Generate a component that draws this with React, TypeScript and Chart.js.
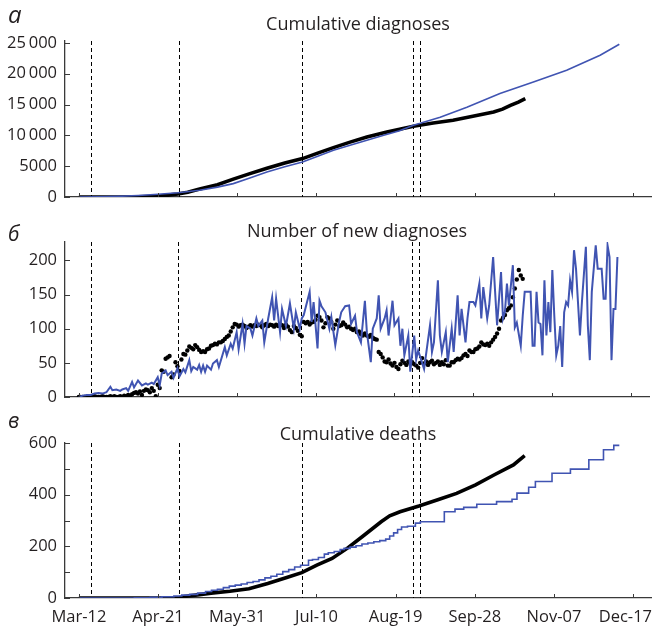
import React, { useEffect, useRef } from 'react';
import { Chart, registerables } from 'chart.js';

Chart.register(...registerables);

// ---- shared axis data (day 0 = Mar-12) ----
const tickDays = [0, 40, 80, 120, 160, 200, 240, 280];
const tickLabels = ['Mar-12', 'Apr-21', 'May-31', 'Jul-10', 'Aug-19', 'Sep-28', 'Nov-07', 'Dec-17'];
const eventDays = [6, 50.5, 112.5, 169, 172.5];

// ---- panel а: cumulative diagnoses ----
const obsCumDiagDays = [0, 10, 20, 30, 40, 45, 50, 55, 61, 70, 78, 86, 95, 104, 113, 121, 128.6, 137, 145.5, 155.6, 162, 169, 179, 189, 199, 209.5, 214, 218, 222, 225.5];
const obsCumDiagVals = [0, 0, 5, 40, 110, 300, 500, 780, 1300, 2000, 2900, 3750, 4650, 5500, 6230, 7150, 8000, 8900, 9720, 10550, 11000, 11470, 12000, 12450, 13100, 13800, 14250, 14850, 15400, 15960];
const modCumDiagDays = [0, 10, 20, 30, 40, 50, 61, 70, 78, 86, 95, 104, 113, 121, 128.6, 137, 145.5, 154, 162, 169, 172.4, 182.5, 196, 212.7, 229.6, 246.4, 263.3, 273];
const modCumDiagVals = [0, 20, 100, 250, 450, 700, 1090, 1600, 2170, 3050, 4060, 4900, 5680, 6650, 7570, 8400, 9200, 10000, 10750, 11650, 11950, 12950, 14550, 16770, 18660, 20550, 22990, 24770];

// ---- panel б: number of new diagnoses ----
const obsNewVals = [
  0, 0, 0, 0, 0, 0, 0, 0, 1, 0,
  0, 0, 1, 0, 0, 0, 1, 0, 1, 0,
  0, 1, 0, 2, 1, 3, 2, 4, 6, 7,
  5, 8, 3, 9, 11, 10, 7, 13, 9, 1,
  18, 13, 39, 37, 56, 58, 60, 29, 33, 51,
  45, 38, 55, 63, 62, 68, 74, 72, 70, 76,
  73, 69, 66, 67, 66, 70, 71, 75, 76, 78,
  77, 80, 80, 82, 85, 88, 90, 96, 102, 107,
  106, 103, 105, 106, 104, 101, 103, 105, 103, 105,
  104, 106, 105, 102, 105, 107, 104, 106, 105, 103,
  106, 104, 107, 105, 101, 106, 103, 98, 95, 104,
  101, 97, 91, 89, 110, 108, 110, 106, 109, 110,
  113, 119, 117, 112, 102, 108, 117, 115, 110, 100,
  106, 112, 104, 105, 109, 106, 102, 103, 100, 98,
  100, 95, 96, 92, 90, 93, 90, 88, 91, 87,
  85, 84, 66, 63, 58, 52, 51, 55, 49, 46,
  50, 44, 41, 48, 53, 50, 47, 52, 49, 51,
  48, 46, 43, 50, 57, 49, 52, 47, 51, 53,
  48, 50, 52, 47, 51, 48, 54, 46, 46, 51,
  51, 54, 56, 55, 57, 61, 63, 60, 68, 66,
  66, 70, 71, 74, 80, 77, 76, 78, 75, 80,
  84, 88, 93, 100, 112, 116, 120, 127, 130, 134,
  146, 159, 172, 186, 178, 173
];
const modNewDays = [
  0, 2, 4, 6, 8, 10, 12, 14, 16, 17, 19, 21, 22, 24, 25, 27, 28, 30, 32, 34,
  35, 37, 38, 40, 41, 42, 44, 45, 47, 48, 50, 51, 53, 54, 56, 57, 58, 60, 61, 62,
  63, 64, 65, 67, 68, 70, 71, 74, 75, 77, 78, 80, 81, 83, 84, 85, 87, 88, 90, 91,
  93, 94, 96, 98, 99, 100, 102, 103, 105, 107, 109, 110, 112, 113, 114, 117, 118, 119, 121, 122,
  123, 125, 127, 128, 130, 132, 133, 135, 137, 138, 140, 141, 143, 145, 146, 148, 149, 151, 152, 153,
  155, 156, 157, 159, 160, 162, 163, 164, 165, 167, 168, 170, 171, 172, 174, 175, 178, 179, 180, 182,
  183, 184, 186, 187, 189, 190, 192, 193, 194, 196, 197, 198, 200, 201, 203, 204, 205, 207, 208, 210,
  211, 212, 214, 215, 216, 217, 218, 220, 221, 222, 224, 225, 226, 227, 229, 230, 231, 232, 233, 234,
  235, 236, 237, 238, 239, 240, 241, 242, 243, 244, 245, 246, 247, 248, 249, 250, 251, 252, 253, 254,
  255, 257, 258, 259, 260, 262, 263, 264, 265, 266, 267, 268, 269, 270, 271, 272, 273
];
const modNewVals = [
  0, 2, 3, 3, 5, 6, 5, 7, 15, 10, 11, 9, 11, 13, 9, 22, 14, 24, 17, 20,
  18, 21, 19, 29, 17, 34, 39, 32, 37, 28, 42, 30, 41, 36, 54, 38, 44, 40, 47, 37,
  46, 37, 46, 40, 49, 54, 44, 73, 61, 78, 71, 95, 70, 107, 78, 104, 100, 90, 115, 104,
  112, 80, 115, 146, 112, 144, 95, 129, 104, 137, 100, 124, 100, 115, 120, 154, 110, 139, 71, 141,
  133, 124, 100, 117, 76, 111, 124, 133, 134, 107, 119, 95, 80, 141, 95, 51, 100, 115, 149, 100,
  115, 127, 90, 141, 105, 115, 75, 100, 61, 90, 37, 90, 55, 68, 50, 41, 105, 66, 80, 171,
  90, 66, 95, 51, 100, 66, 149, 90, 129, 80, 115, 139, 139, 134, 166, 115, 161, 115, 134, 205,
  154, 105, 183, 115, 125, 166, 134, 193, 102, 109, 75, 119, 154, 154, 154, 75, 75, 154, 109, 107,
  61, 171, 90, 139, 95, 186, 119, 61, 75, 104, 44, 124, 139, 134, 171, 154, 215, 188, 139, 90,
  139, 220, 105, 54, 154, 222, 188, 188, 188, 144, 144, 222, 205, 54, 129, 129, 205
];

// ---- panel в: cumulative deaths ----
const obsDeathDays = [0, 40, 51, 53.4, 60, 66.8, 76.3, 85.9, 95.4, 105, 112.6, 120.2, 127.9, 135.5, 143.1, 152.7, 157, 162.2, 171.8, 181.3, 190.8, 200.4, 209.9, 219.5, 225.2];
const obsDeathVals = [0, 0, 1, 6, 12, 19, 26, 36, 56, 79, 98, 127, 153, 192, 237, 295, 318, 334, 356, 380, 405, 438, 477, 515, 551];
const modDeathDays = [0, 28, 36, 42, 48, 52, 56, 60, 64, 67, 70, 73, 76, 79, 82, 85, 88, 91, 94, 97, 100, 103, 106, 109, 112, 116, 118, 121, 124, 126, 129, 132, 134, 137, 140, 143, 146, 149, 152, 155, 157, 159, 161, 163, 166, 170, 172.5, 184.6, 190, 194.4, 201, 211, 218.8, 221.3, 227.2, 230.6, 239, 248.3, 257.6, 265, 270.2, 273];
const modDeathVals = [0, 1, 3, 5, 8, 11, 14, 19, 25, 30, 34, 40, 46, 50, 54, 60, 64, 70, 78, 84, 92, 102, 110, 120, 127, 146, 149, 157, 170, 175, 180, 188, 192, 197, 202, 209, 213, 218, 222, 228, 240, 252, 265, 275, 278, 290, 295, 334, 344, 351, 363, 373, 382, 406, 429, 451, 483, 499, 535, 574, 591, 591];

// ---- y ticks ----
const yTicksA = [0, 5000, 10000, 15000, 20000, 25000];
const yTicksB = [0, 50, 100, 150, 200];
const yTicksC = [0, 100, 200, 300, 400, 500, 600];

const FONT = '"Open Sans", sans-serif';
const TEXT = '#231f20';
const AXIS = '#3a3a3a';
const BLUE = '#4054b2';
const W = 653;

const pairs = (xs: number[], ys: number[]) => xs.map((x, i) => ({ x, y: ys[i] }));

const decorPlugin = {
  id: 'decor',
  beforeDatasetsDraw(chart: any) {
    const { ctx, chartArea: a, scales } = chart;
    const x = scales.x;
    ctx.save();
    ctx.strokeStyle = '#000';
    ctx.lineWidth = 1;
    ctx.setLineDash([4, 3]);
    eventDays.forEach((d) => {
      const px = Math.round(x.getPixelForValue(d)) + 0.5;
      ctx.beginPath();
      ctx.moveTo(px, a.top);
      ctx.lineTo(px, a.bottom);
      ctx.stroke();
    });
    ctx.restore();
  },
  afterDraw(chart: any, _a: any, o: any) {
    const { ctx, chartArea: a, scales, width } = chart;
    const x = scales.x;
    const y = scales.y;
    ctx.save();
    ctx.strokeStyle = AXIS;
    ctx.lineWidth = 1;
    ctx.beginPath();
    tickDays.forEach((d) => {
      const px = Math.round(x.getPixelForValue(d)) + 0.5;
      ctx.moveTo(px, a.bottom);
      ctx.lineTo(px, a.bottom - 4);
    });
    (o.yTicks as number[]).forEach((v) => {
      const py = Math.round(y.getPixelForValue(v)) + 0.5;
      ctx.moveTo(a.left, py);
      ctx.lineTo(a.left + 5, py);
    });
    ctx.stroke();
    ctx.fillStyle = TEXT;
    ctx.textBaseline = 'alphabetic';
    if (o.showX) {
      ctx.font = `16.5px ${FONT}`;
      ctx.textAlign = 'left';
      tickDays.forEach((d, i) => {
        const label = tickLabels[i];
        const w = ctx.measureText(label).width;
        let left = x.getPixelForValue(d) - w / 2;
        if (left + w > width - 1) left = width - 1 - w;
        ctx.fillText(label, left, o.xLabelY);
      });
    }
    ctx.font = `18px ${FONT}`;
    ctx.textAlign = 'center';
    ctx.fillText(o.title, (a.left + a.right) / 2, o.titleY);
    ctx.font = `italic ${o.letterSize}px ${FONT}`;
    ctx.textAlign = 'left';
    ctx.fillText(o.letter, 8, o.letterY);
    ctx.restore();
  },
};

type PanelOpts = {
  datasets: any[];
  yMax: number;
  yTicks: number[];
  yLabel: (v: number) => string;
  showX: boolean;
  xLabelY?: number;
  padTop: number;
  padBottom: number;
  xHeight: number;
  title: string;
  titleY: number;
  letter: string;
  letterY: number;
  letterSize: number;
};

function makeConfig(p: PanelOpts): any {
  const tickFont = { family: FONT, size: 16.5 };
  return {
    type: 'line',
    data: { datasets: p.datasets },
    plugins: [decorPlugin],
    options: {
      responsive: false,
      maintainAspectRatio: false,
      animation: false,
      layout: { padding: { left: 0, right: 2, top: p.padTop, bottom: p.padBottom } },
      plugins: {
        legend: { display: false },
        tooltip: { enabled: false },
        title: { display: false },
        decor: {
          yTicks: p.yTicks,
          showX: p.showX,
          xLabelY: p.xLabelY || 0,
          title: p.title,
          titleY: p.titleY,
          letter: p.letter,
          letterY: p.letterY,
          letterSize: p.letterSize,
        },
      },
      scales: {
        x: {
          type: 'linear',
          min: -7,
          max: 289,
          afterBuildTicks: (s: any) => {
            s.ticks = tickDays.map((v) => ({ value: v }));
          },
          afterFit: (s: any) => {
            s.height = p.xHeight;
            s.paddingLeft = 0;
            s.paddingRight = 0;
          },
          grid: { display: false, drawTicks: false },
          border: { display: true, color: AXIS, width: 1.3 },
          ticks: { display: false },
        },
        y: {
          type: 'linear',
          min: 0,
          max: p.yMax,
          afterBuildTicks: (s: any) => {
            s.ticks = p.yTicks.map((v) => ({ value: v }));
          },
          afterFit: (s: any) => {
            s.width = 65;
            s.paddingTop = 0;
            s.paddingBottom = 0;
          },
          grid: { display: false, drawTicks: false },
          border: { display: true, color: AXIS, width: 1.3 },
          ticks: {
            padding: 8,
            autoSkip: false,
            font: tickFont,
            color: TEXT,
            callback: (v: number) => p.yLabel(v),
          },
        },
      },
    },
  };
}

const lineDs = (data: any[], color: string, width: number, extra: any = {}) => ({
  data,
  borderColor: color,
  backgroundColor: color,
  borderWidth: width,
  pointRadius: 0,
  fill: false,
  tension: 0,
  ...extra,
});

function Panel({ top, height, config }: { top: number; height: number; config: () => any }) {
  const ref = useRef<HTMLCanvasElement | null>(null);
  useEffect(() => {
    if (!ref.current) return;
    const chart = new Chart(ref.current, config());
    return () => chart.destroy();
  }, []);
  return (
    <canvas
      ref={ref}
      width={W}
      height={height}
      style={{ position: 'absolute', left: 0, top, width: W, height }}
    />
  );
}

const fmtA = (v: number) => (v >= 10000 ? `${Math.round(v / 1000)}\u2009000` : String(v));

export default function App() {
  const cfgA = () =>
    makeConfig({
      datasets: [
        lineDs(pairs(modCumDiagDays, modCumDiagVals), BLUE, 1.6),
        lineDs(pairs(obsCumDiagDays, obsCumDiagVals), '#000', 3.6),
      ],
      yMax: 25300,
      yTicks: yTicksA,
      yLabel: fmtA,
      showX: false,
      padTop: 41,
      padBottom: 13,
      xHeight: 0,
      title: 'Cumulative diagnoses',
      titleY: 30,
      letter: 'а',
      letterY: 23,
      letterSize: 24,
    });
  const cfgB = () =>
    makeConfig({
      datasets: [
        lineDs(pairs(modNewDays, modNewVals), BLUE, 2),
        {
          type: 'scatter',
          data: obsNewVals.map((v, i) => ({ x: i, y: v })),
          showLine: false,
          pointRadius: 2.2,
          pointBorderWidth: 0,
          pointBackgroundColor: '#000',
          backgroundColor: '#000',
          borderColor: '#000',
        },
      ],
      yMax: 227,
      yTicks: yTicksB,
      yLabel: (v) => String(v),
      showX: false,
      padTop: 32,
      padBottom: 13,
      xHeight: 0,
      title: 'Number of new diagnoses',
      titleY: 27,
      letter: 'б',
      letterY: 31,
      letterSize: 21,
    });
  const cfgC = () =>
    makeConfig({
      datasets: [
        lineDs(pairs(modDeathDays, modDeathVals), BLUE, 1.6, { stepped: 'before' }),
        lineDs(pairs(obsDeathDays, obsDeathVals), '#000', 3.6),
      ],
      yMax: 600,
      yTicks: yTicksC,
      yLabel: (v) => (v % 200 === 0 ? String(v) : ''),
      showX: true,
      xLabelY: 212,
      padTop: 33,
      padBottom: 3,
      xHeight: 30,
      title: 'Cumulative deaths',
      titleY: 30,
      letter: 'в',
      letterY: 18,
      letterSize: 21,
    });
  return (
    <div style={{ position: 'absolute', left: 0, top: 0, width: W, height: 631, background: '#fff' }}>
      <Panel top={0} height={210} config={cfgA} />
      <Panel top={210} height={200} config={cfgB} />
      <Panel top={410} height={221} config={cfgC} />
    </div>
  );
}
